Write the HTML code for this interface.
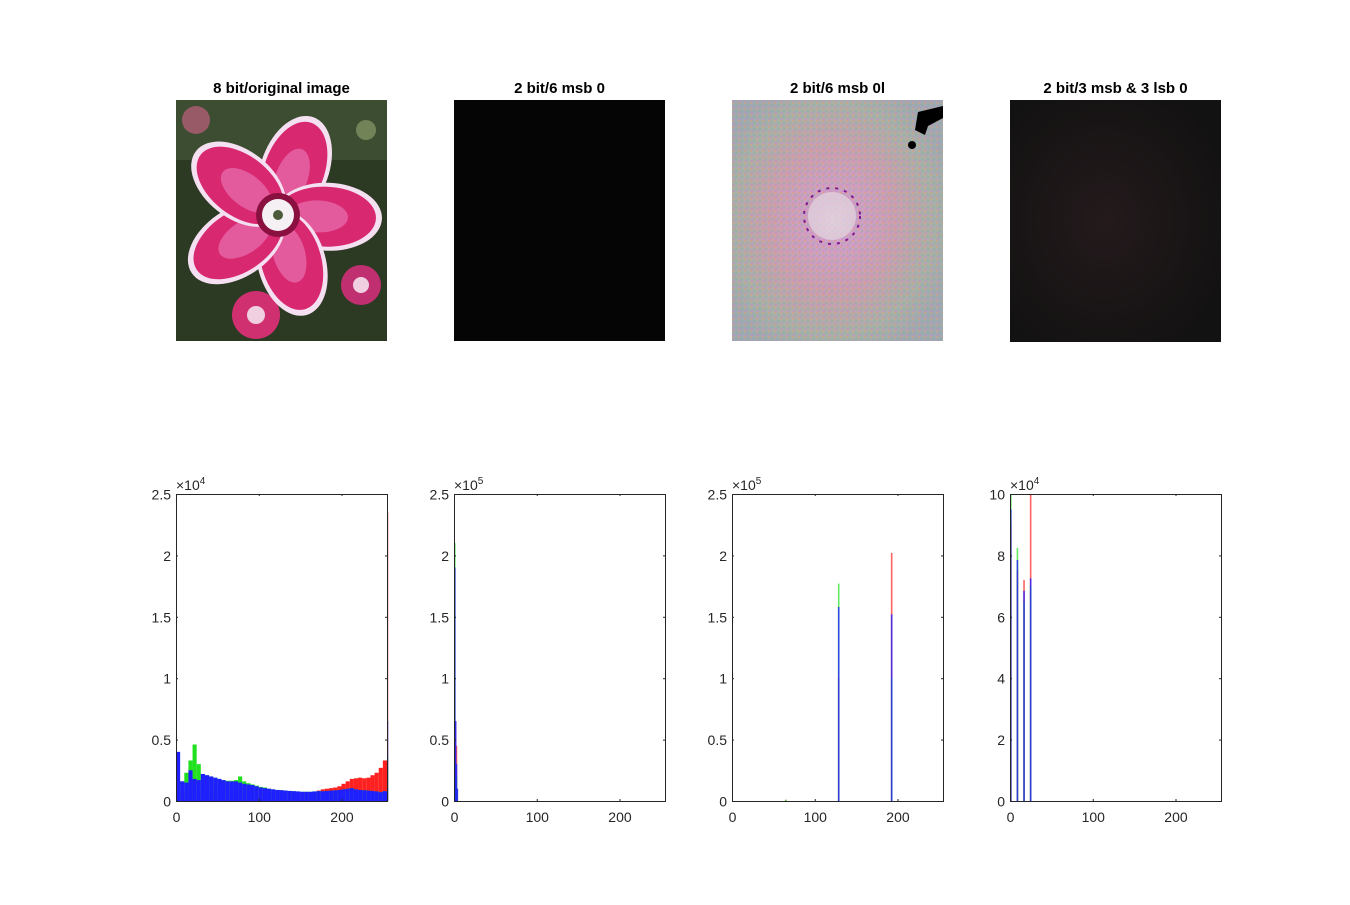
<!DOCTYPE html>
<html><head><meta charset="utf-8">
<style>
html,body{margin:0;padding:0;background:#fff;}
body{width:1350px;height:900px;overflow:hidden;font-family:"Liberation Sans",sans-serif;}
</style></head>
<body>
<svg id="fig" width="1350" height="900" xmlns="http://www.w3.org/2000/svg">
<defs>
<radialGradient id="fl3" cx="0.48" cy="0.5" r="0.6">
<stop offset="0" stop-color="#e0c8d8"/><stop offset="0.15" stop-color="#d0a0c8"/><stop offset="0.5" stop-color="#c8a0b0"/><stop offset="0.8" stop-color="#a8b0a8"/><stop offset="1" stop-color="#a0a8b0"/>
</radialGradient>
<radialGradient id="fl4" cx="0.45" cy="0.5" r="0.6">
<stop offset="0" stop-color="#241a1c"/><stop offset="1" stop-color="#131212"/>
</radialGradient>
<pattern id="noise" width="6" height="6" patternUnits="userSpaceOnUse">
<rect width="2" height="2" fill="#e0a070" opacity="0.45"/><rect x="3" y="2" width="2" height="2" fill="#80b0a0" opacity="0.4"/><rect x="1" y="4" width="2" height="2" fill="#d080d0" opacity="0.4"/>
</pattern>
</defs>
<g id="images"></g>
<g id="charts"></g>
</svg>
<script>
// ===== Histogram data =====
const h1Bins = [0,5,10,15,20,25,30,35,40,45,50,55,60,65,70,75,80,85,90,95,100,105,110,115,120,125,130,135,140,145,150,155,160,165,170,175,180,185,190,195,200,205,210,215,220,225,230,235,240,245,250,255];
const h1Blue = [4.0,1.6,1.5,2.5,1.8,1.7,2.2,2.1,2.0,1.9,1.8,1.7,1.6,1.6,1.6,1.5,1.4,1.35,1.3,1.2,1.1,1.05,1.0,0.95,0.9,0.88,0.85,0.82,0.8,0.78,0.75,0.75,0.75,0.78,0.8,0.8,0.82,0.85,0.87,0.9,0.95,1.0,1.05,0.95,0.9,0.88,0.85,0.82,0.78,0.72,0.8,6.5];
const h1Green = [1.5,1.6,2.3,3.3,4.6,3.0,2.2,2.1,2.0,1.9,1.8,1.7,1.65,1.65,1.7,2.0,1.6,1.45,1.35,1.25,1.15,1.1,1.0,0.95,0.9,0.88,0.85,0.82,0.8,0.78,0.75,0.75,0.75,0.78,0.8,0.8,0.82,0.85,0.87,0.9,0.95,1.0,1.05,0.95,0.9,0.88,0.85,0.82,0.78,0.72,0.8,3.8];
const h1Red = [0.7,0.7,0.7,0.7,0.7,0.7,0.7,0.7,0.7,0.7,0.7,0.7,0.7,0.7,0.7,0.7,0.7,0.7,0.7,0.7,0.7,0.7,0.7,0.7,0.7,0.7,0.7,0.7,0.7,0.7,0.7,0.7,0.7,0.75,0.85,0.95,1.0,1.05,1.1,1.2,1.4,1.6,1.8,1.85,1.9,1.85,1.9,2.1,2.3,2.7,3.3,23.5];
const h2Bins = [0,1,2,3];
const h2Red = [0.3,0.65,0.45,0.1];
const h2Green = [2.1,0.3,0.2,0.1];
const h2Blue = [1.9,0.65,0.3,0.1];
const h3Bins = [0,64,128,192];
const h3Red = [0,0.01,1.0,2.02];
const h3Green = [0,0.01,1.77,1.0];
const h3Blue = [0,0,1.58,1.52];
const h4Bins = [0,8,16,24];
const h4Red = [9,7.5,7.2,10];
const h4Green = [10,8.25,6.5,7];
const h4Blue = [9.5,7.85,6.85,7.25];

const yTicks1 = ["0","0.5","1","1.5","2","2.5"];
const yTicks4 = ["0","2","4","6","8","10"];
const xTicks = ["0","100","200"];
const titles = ["8 bit/original image","2 bit/6 msb 0","2 bit/6 msb 0l","2 bit/3 msb & 3 lsb 0"];

const NS = "http://www.w3.org/2000/svg";
function mk(tag, attrs, parent){const e=document.createElementNS(NS,tag);for(const k in attrs)e.setAttribute(k,attrs[k]);parent.appendChild(e);return e;}
const imgs = document.getElementById('images');
const charts = document.getElementById('charts');
const lefts = [176,454,732,1010];
const W = 211, axTop = 494, H = 307;

titles.forEach((t,i)=>{
  const tx = mk('text',{x:lefts[i]+W/2,y:93,'text-anchor':'middle','font-size':'15','font-weight':'bold',fill:'#000'},imgs);
  tx.textContent = t;
  
  
});
(function(){
  const g = mk('g',{},imgs);
  
  
  const x0=176,y0=100,w=211,h=241;
  mk('rect',{x:x0,y:y0,width:w,height:h,fill:'#2c3a24'},g);
  mk('rect',{x:x0,y:y0,width:w,height:60,fill:'#4a5a3a',opacity:0.6},g);
  mk('circle',{cx:x0+20,cy:y0+20,r:14,fill:'#c06080',opacity:0.7},g);
  mk('circle',{cx:x0+190,cy:y0+30,r:10,fill:'#8a9a6a',opacity:0.7},g);
  mk('circle',{cx:x0+185,cy:y0+185,r:20,fill:'#c03070'},g);
  mk('circle',{cx:x0+185,cy:y0+185,r:8,fill:'#f0d0e0'},g);
  mk('circle',{cx:x0+80,cy:y0+215,r:24,fill:'#d03070'},g);
  mk('circle',{cx:x0+80,cy:y0+215,r:9,fill:'#f0d0e0'},g);
  const cx=x0+102, cy=y0+115;
  [0,72,144,216,288].forEach(a=>{
    mk('ellipse',{cx:cx,cy:cy-50,rx:34,ry:54,fill:'#f4e0f0',transform:`rotate(${a+20} ${cx} ${cy})`},g);
    mk('ellipse',{cx:cx,cy:cy-48,rx:30,ry:50,fill:'#d82870',transform:`rotate(${a+20} ${cx} ${cy})`},g);
    mk('ellipse',{cx:cx,cy:cy-40,rx:16,ry:30,fill:'#e870b0',opacity:0.7,transform:`rotate(${a+20} ${cx} ${cy})`},g);
  });
  mk('circle',{cx:cx,cy:cy,r:22,fill:'#8a1040'},g);
  mk('circle',{cx:cx,cy:cy,r:16,fill:'#f4f0f4'},g);
  mk('circle',{cx:cx,cy:cy,r:5,fill:'#4a5a3a'},g);
})();
(function(){
  const r = mk('rect',{x:454,y:100,width:211,height:241,fill:'#050505'},imgs);
  
  
  const g = mk('g',{},imgs);
  
  
  mk('rect',{x:732,y:100,width:211,height:241,fill:'url(#fl3)'},g);
  mk('rect',{x:732,y:100,width:211,height:241,fill:'url(#noise)'},g);
  mk('circle',{cx:832,cy:216,r:24,fill:'#e0d0dc',opacity:0.8},g);
  mk('circle',{cx:832,cy:216,r:28,fill:'none',stroke:'#801890','stroke-width':2,'stroke-dasharray':'3 6'},g);
  mk('polygon',{points:'918,112 943,106 943,118 928,126 925,135 915,130',fill:'#000'},g);
  mk('circle',{cx:912,cy:145,r:4,fill:'#000'},g);
  const r4 = mk('rect',{x:1010,y:100,width:211,height:242,fill:'url(#fl4)'},imgs);
  
  
})();

function panel(idx, bins, red, green, blue, ymax, yTickLabels, exp, barW, lw){
  const x0 = lefts[idx];
  const g = mk('g',{},charts);
  
  
  const sx = v => x0 + v/255*W;
  const sy = v => axTop + H - v/ymax*H;
  const series = [['red',red,'#ff2020'],['green',green,'#20e020'],['blue',blue,'#2020ff']];
  series.forEach(([nm,vals,col])=>{
    const sg = mk('g',{},g);
    
    
    vals.forEach((v,i)=>{
      const vv = Math.min(v,ymax);
      let el;
      if(barW){
        const xa = sx(bins[i]), xb = Math.min(sx(Math.min(bins[i]+barW,255.9)), x0+W);
        el = mk('rect',{x:xa,y:sy(vv),width:Math.max(xb-xa,1.2),height:axTop+H-sy(vv),fill:col},sg);
      } else {
        el = mk('line',{x1:sx(bins[i])+0.8,x2:sx(bins[i])+0.8,y1:axTop+H,y2:sy(vv),stroke:col,'stroke-width':lw,opacity:nm==='blue'?0.8:0.7},sg);
      }
      
      
    });
  });
  const ax = mk('rect',{x:x0+0.5,y:axTop+0.5,width:W,height:H,fill:'none',stroke:'#262626','stroke-width':1},g);
  
  
  yTickLabels.forEach((t,i)=>{
    const v = ymax*i/(yTickLabels.length-1);
    const y = sy(v)+0.5;
    mk('line',{x1:x0,x2:x0+2,y1:y,y2:y,stroke:'#262626'},g);
    mk('line',{x1:x0+W-2,x2:x0+W,y1:y,y2:y,stroke:'#262626'},g);
    const tx = mk('text',{x:x0-5,y:y+5,'text-anchor':'end','font-size':'14',fill:'#262626'},g);
    tx.textContent = t;
    
    
  });
  xTicks.forEach(t=>{
    const x = sx(+t)+0.5;
    mk('line',{x1:x,x2:x,y1:axTop+H,y2:axTop+H-2,stroke:'#262626'},g);
    mk('line',{x1:x,x2:x,y1:axTop,y2:axTop+2,stroke:'#262626'},g);
    const tx = mk('text',{x:x,y:axTop+H+21,'text-anchor':'middle','font-size':'14',fill:'#262626'},g);
    tx.textContent = t;
    
    
  });
  const ex = mk('text',{x:x0,y:axTop-4,'font-size':'14',fill:'#262626'},g);
  ex.textContent = '\u00d710';
  
  
  const sup = mk('tspan',{dy:'-6','font-size':'10'},ex);
  sup.textContent = exp;
}
panel(0,h1Bins,h1Red,h1Green,h1Blue,25,yTicks1,'4',5,0);
panel(1,h2Bins,h2Red,h2Green,h2Blue,2.5,yTicks1,'5',0,1.6);
panel(2,h3Bins,h3Red,h3Green,h3Blue,2.5,yTicks1,'5',0,1.6);
panel(3,h4Bins,h4Red,h4Green,h4Blue,10,yTicks4,'4',0,1.6);
</script>
</body></html>
